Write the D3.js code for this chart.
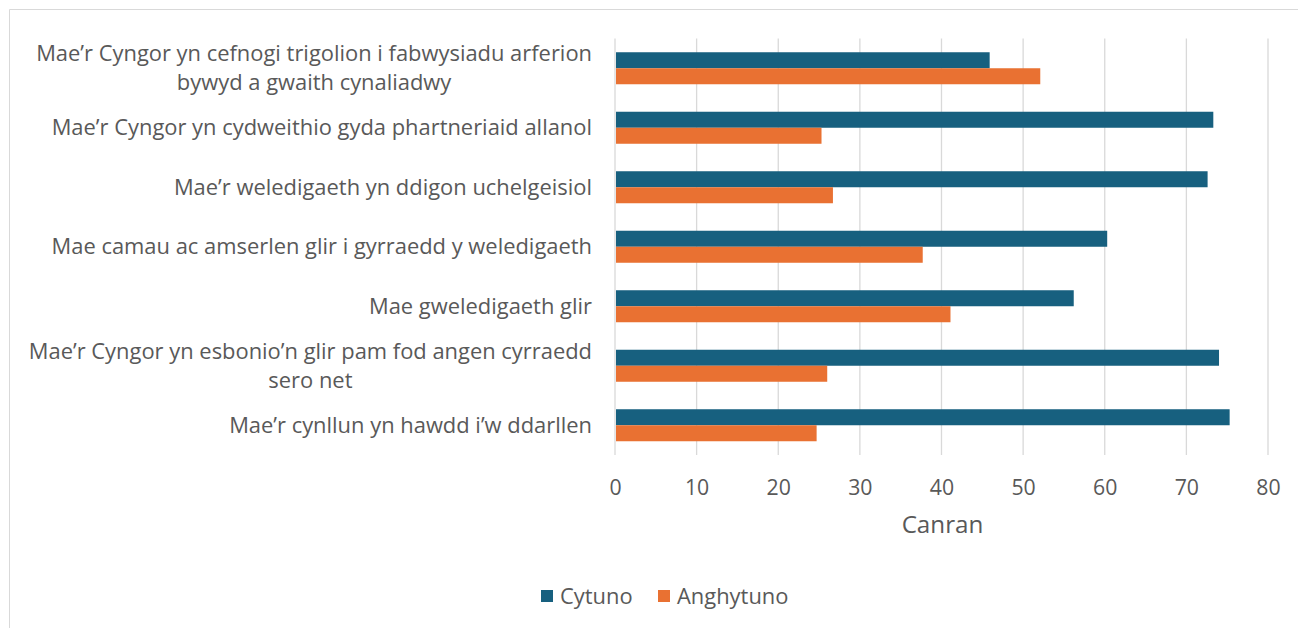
<!DOCTYPE html>
<html><head><meta charset="utf-8">
<script src="https://cdn.jsdelivr.net/npm/d3@7"></script>
<style>
html,body{margin:0;padding:0;background:#fff;}
svg{display:block;}
text{font-family:"Open Sans","Noto Sans",sans-serif;fill:#595959;}
</style></head>
<body><svg id="c" width="1298" height="628"></svg>
<script>
const categories = [
  ["Mae’r Cyngor yn cefnogi trigolion i fabwysiadu arferion", "bywyd a gwaith cynaliadwy"],
  ["Mae’r Cyngor yn cydweithio gyda phartneriaid allanol"],
  ["Mae’r weledigaeth yn ddigon uchelgeisiol"],
  ["Mae camau ac amserlen glir i gyrraedd y weledigaeth"],
  ["Mae gweledigaeth glir"],
  ["Mae’r Cyngor yn esbonio’n glir pam fod angen cyrraedd", "sero net"],
  ["Mae’r cynllun yn hawdd i’w ddarllen"]
];
const cytuno    = [45.9, 73.3, 72.6, 60.3, 56.2, 74.0, 75.3];
const anghytuno = [52.1, 25.3, 26.7, 37.7, 41.1, 26.0, 24.7];
const seriesNames = ["Cytuno", "Anghytuno"];
const colors = ["#17607f", "#e97132"];
const xTicks = [0,10,20,30,40,50,60,70,80];

(function(){
const svg = d3.select("#c");
svg.append("path").attr("d","M9.5,628 L9.5,9.5 L1298,9.5").attr("fill","none").attr("stroke","#d9d9d9").attr("stroke-width",1);

// measure font scale
const probe = svg.append("text").style("font-size","19px").text(categories[0][0]);
const f = 556 / probe.node().getComputedTextLength();
probe.remove();
const fs = 19*f;

const pL = 615, pR = 1268, pT = 38.5, pB = 455;
const x = d3.scaleLinear().domain([0,80]).range([pL,pR]);
const y = d3.scaleBand().domain(d3.range(categories.length)).range([pT,pB]).paddingInner(0.462).paddingOuter(0.231);
const sub = d3.scaleBand().domain([0,1]).range([0,y.bandwidth()]);

svg.append("g").selectAll("line").data(xTicks).join("line")
  .attr("x1",d=>x(d)).attr("x2",d=>x(d)).attr("y1",pT).attr("y2",pB)
  .attr("stroke","#d9d9d9").attr("stroke-width",1.3);

const series = [cytuno, anghytuno];
series.forEach((vals,si)=>{
  svg.append("g").selectAll("rect").data(vals).join("rect")
    .attr("x",x(0)+1).attr("y",(d,i)=>y(i)+sub(si))
    .attr("width",d=>x(d)-x(0)-1).attr("height",sub.bandwidth())
    .attr("fill",colors[si]);
});

const xAxis = d3.axisBottom(x).tickValues(xTicks).tickSize(0).tickPadding(0);
const gx = svg.append("g").attr("transform",`translate(0,${pB})`).call(xAxis);
gx.select(".domain").remove();
gx.attr("font-family",null).attr("font-size",null);
gx.selectAll("text").attr("y",33).attr("dy","0.35em").style("font-size",(fs*0.97)+"px").style("fill","#595959");

svg.append("text").attr("x",(pL+pR)/2+1).attr("y",525).attr("dy","0.35em").attr("text-anchor","middle")
  .style("font-size",(21*f)+"px").text("Canran");

const lab = svg.append("g");
categories.forEach((lines,i)=>{
  const cy = y(i)+y.bandwidth()/2;
  const g = lab.append("g");
  const lh = 29;
  const t = g.append("text").style("font-size",fs+"px").attr("text-anchor","middle");
  lines.forEach((ln,k)=>{
    t.append("tspan").attr("x",0).attr("y",cy + (k-(lines.length-1)/2)*lh).attr("dy","0.35em").text(ln);
  });
  const bb = t.node().getBBox();
  g.attr("transform",`translate(${592 - (bb.x+bb.width)},0)`);
});

const leg = svg.append("g");
const legItems = [{n:seriesNames[0],c:colors[0],x:541},{n:seriesNames[1],c:colors[1],x:658}];
legItems.forEach(it=>{
  leg.append("rect").attr("x",it.x).attr("y",590).attr("width",12).attr("height",12).attr("fill",it.c);
  leg.append("text").attr("x",it.x+19).attr("y",596).attr("dy","0.35em").style("font-size",fs+"px").text(it.n);
});
})();
</script></body></html>
